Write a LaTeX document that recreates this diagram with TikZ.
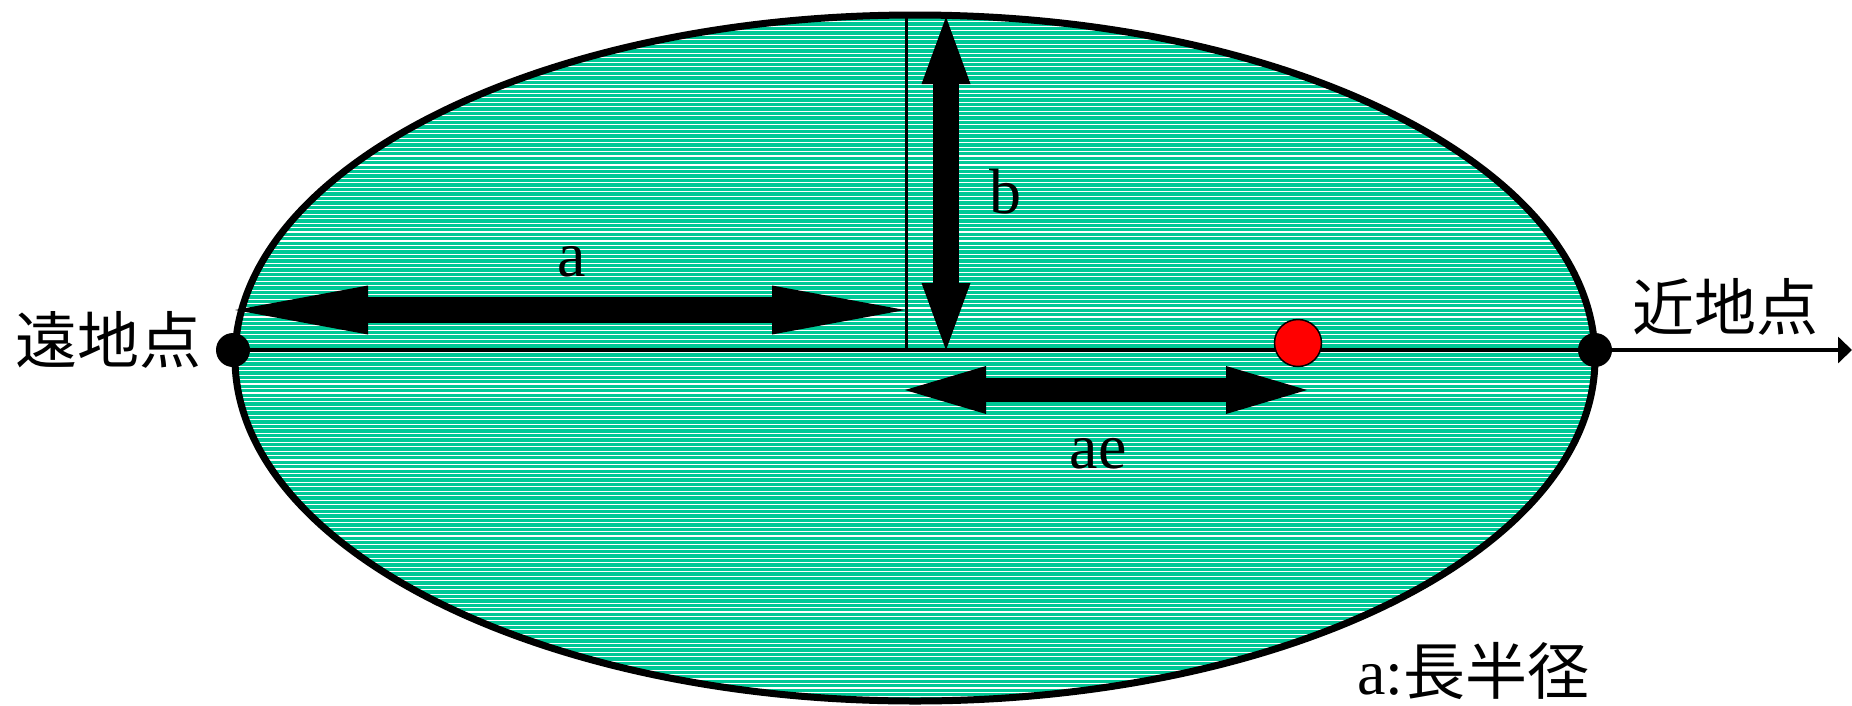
\documentclass[tikz,border=0pt]{standalone}
\usepackage{fontspec}
\setmainfont{Liberation Serif}
\newfontfamily\jp{Noto Sans CJK JP}
\usepackage{tikz}
\usetikzlibrary{arrows.meta,positioning}
\definecolor{orbgreen}{RGB}{0,200,150}

\begin{document}
\begin{tikzpicture}[x=1pt,y=-1pt,
  dot/.style={circle,fill=black,inner sep=0pt,minimum size=34pt},
  sun/.style={circle,draw=black,line width=1.5pt,fill=red,inner sep=0pt,minimum size=47pt},
  lab/.style={inner sep=0pt,font=\fontsize{64}{64}\selectfont},
  jlab/.style={inner sep=0pt,font=\jp\fontsize{62}{62}\selectfont},
  orbit/.style={x radius=680pt,y radius=343pt}]
\useasboundingbox (0,0) rectangle (1852,705);
% orbit with striped fill
\fill[orbgreen] (915,358) ellipse [orbit];
\begin{scope}
  \clip (915,358) ellipse [orbit];
  \foreach \k in {0,...,157}
    \draw[white,line width=1.1pt] (220,{13+4.47*\k}) -- (1610,{13+4.47*\k});
\end{scope}
\draw[line width=7pt] (915,358) ellipse [orbit];
% axis and semi-minor line
\node[dot] (apo) at (233,350) {};
\node[dot] (peri) at (1595,350) {};
\coordinate (axend) at (1852,350);
\coordinate (top) at (906,15);
\coordinate (foot) at (906,350);
\draw[line width=3pt] (top) -- (foot);
\draw[line width=4.5pt,-{Triangle[length=14pt,width=26pt]}] (apo.center) -- (axend);
\node[sun] (s) at (1298,343) {};
% a, b, ae
\coordinate (aL) at (235,310);
\coordinate (aR) at (905,310);
\coordinate (bT) at (946,17);
\coordinate (bB) at (946,350);
\coordinate (aeL) at (905,390);
\coordinate (aeR) at (1307,390);
\draw[line width=26pt,{Triangle[length=133pt,width=49pt,line width=0pt]}-{Triangle[length=133pt,width=49pt,line width=0pt]}] (aL) -- (aR);
\draw[line width=26pt,{Triangle[length=67pt,width=49pt,line width=0pt]}-{Triangle[length=67pt,width=49pt,line width=0pt]}] (bT) -- (bB);
\draw[line width=24pt,{Triangle[length=81pt,width=48pt,line width=0pt]}-{Triangle[length=81pt,width=48pt,line width=0pt]}] (aeL) -- (aeR);
\node[lab] (la) at (572,262) {a};
\node[lab] (lb) at (1005,192) {b};
\node[lab] (lae) at (1098,454) {ae};
\node[jlab,left=14pt of apo,yshift=10pt] (lapo) {遠地点};
\node[jlab] (lperi) at (1725,307) {近地点};
\node[lab,anchor=base west] (lsemi) at (1357,694) {a:{\jp\fontsize{62}{62}\selectfont 長半径}};
\end{tikzpicture}
\end{document}
